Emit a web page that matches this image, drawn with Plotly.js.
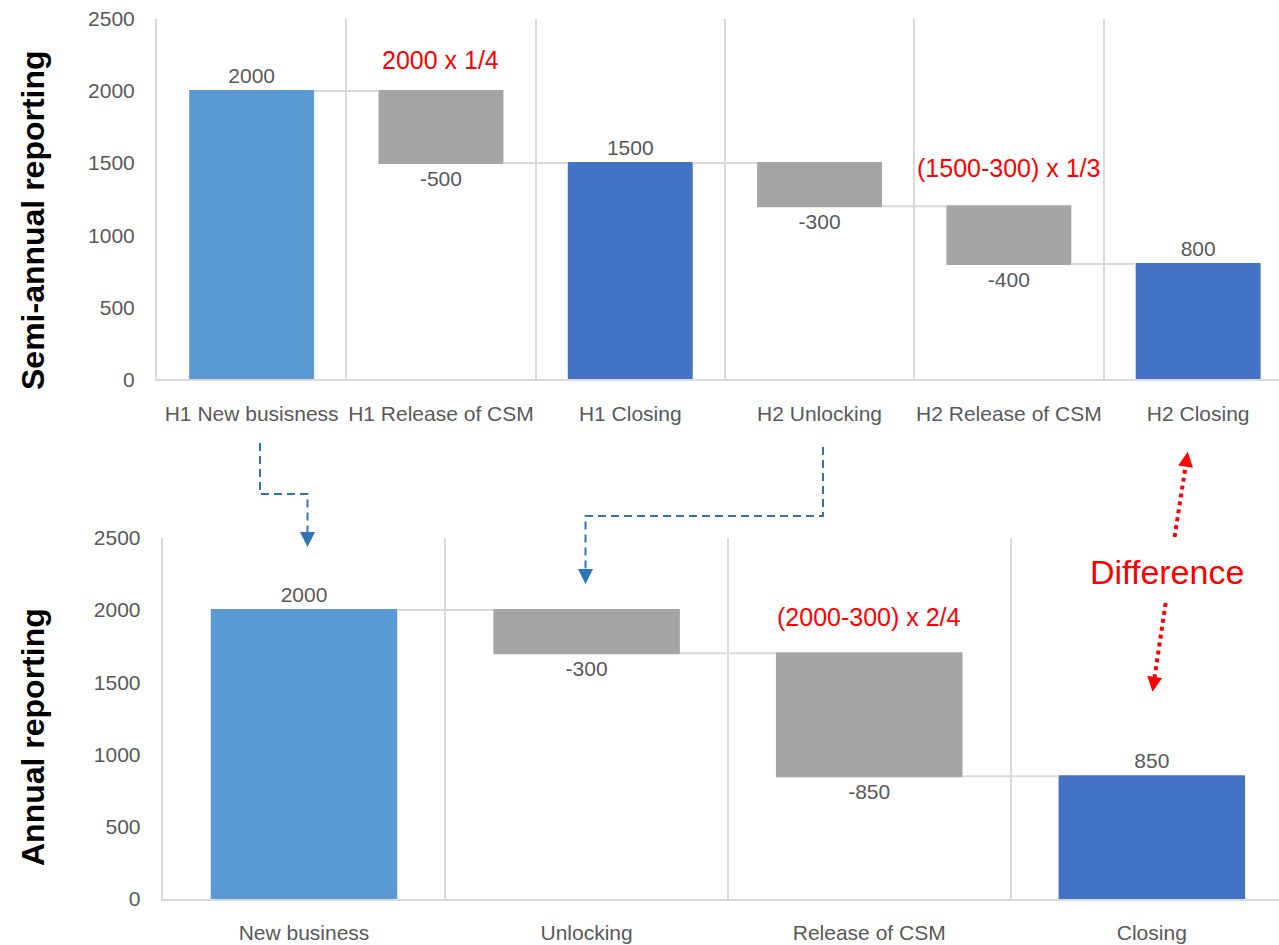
<!DOCTYPE html>
<html>
<head>
<meta charset="utf-8">
<script src="https://cdn.plot.ly/plotly-3.0.1.min.js"></script>
<style>html,body{margin:0;padding:0;background:#fff;}#chart{width:1279px;height:945px;}</style>
</head>
<body>
<div id="chart"></div>
<script>
// ---- data ----
const topCategories = ['H1 New busisness', 'H1 Release of CSM', 'H1 Closing', 'H2 Unlocking', 'H2 Release of CSM', 'H2 Closing'];
const topMeasures = ['relative', 'relative', 'total', 'relative', 'relative', 'total'];
const topValues = [2000, -500, 1500, -300, -400, 800];

const bottomCategories = ['New business', 'Unlocking', 'Release of CSM', 'Closing'];
const bottomMeasures = ['relative', 'relative', 'relative', 'total'];
const bottomValues = [2000, -300, -850, 850];

const topNotes = ['2000 x 1/4', '(1500-300) x 1/3'];
const topNoteCats = ['H1 Release of CSM', 'H2 Release of CSM'];
const topNoteY = [2216, 1466];
const bottomNotes = ['(2000-300) x 2/4', 'Difference'];
const bottomNoteCats = ['Release of CSM', 'Closing'];
const bottomNoteY = [1953, 2265];

const yTicks = [0, 500, 1000, 1500, 2000, 2500];

// ---- helpers ----
const W = 1279, H = 945;
const FONT = 'Liberation Sans, Arial, sans-serif';
const GREY_TXT = '#595959';
const GRID = '#D9D9D9';
function labelsFor(measures, values) {
  let run = 0;
  return values.map((v, i) => {
    if (measures[i] === 'total') return String(run);
    run += v;
    return String(v);
  });
}
const px = x => x / W;
const py = y => 1 - y / H;
function pathOf(pts) {
  return pts.map((p, i) => (i ? 'L ' : 'M ') + px(p[0]) + ',' + py(p[1])).join(' ');
}
function head(tip, from, len, hw) {
  const dx = tip[0] - from[0], dy = tip[1] - from[1];
  const d = Math.hypot(dx, dy), ux = dx / d, uy = dy / d;
  const bx = tip[0] - ux * len, by = tip[1] - uy * len;
  return pathOf([tip, [bx - uy * hw, by + ux * hw], [bx + uy * hw, by - ux * hw]]) + ' Z';
}

function wf(cats, measures, values, xa, ya) {
  return {
    type: 'waterfall',
    x: cats, y: values, measure: measures,
    xaxis: xa, yaxis: ya,
    text: labelsFor(measures, values),
    textposition: 'outside',
    constraintext: 'none',
    cliponaxis: false,
    textfont: {family: FONT, size: 21, color: GREY_TXT},
    increasing: {marker: {color: '#5B9BD5'}},
    decreasing: {marker: {color: '#A5A5A5'}},
    totals: {marker: {color: '#4472C4'}},
    connector: {mode: 'between', line: {color: GRID, width: 2}},
    hoverinfo: 'none',
    showlegend: false
  };
}

const data = [
  wf(topCategories, topMeasures, topValues, 'x', 'y'),
  wf(bottomCategories, bottomMeasures, bottomValues, 'x2', 'y2')
];

function xAxis(domain, range, anchor) {
  return {
    domain: domain, range: range, anchor: anchor,
    type: 'category', tickson: 'boundaries', tickangle: 0,
    showgrid: true, gridcolor: GRID, gridwidth: 2,
    showline: true, linecolor: GRID, linewidth: 2,
    ticks: '', ticklabelstandoff: 14,
    tickfont: {family: FONT, size: 21, color: GREY_TXT},
    fixedrange: true
  };
}
function yAxis(domain, anchor) {
  return {
    domain: domain, range: [0, 2500], anchor: anchor,
    tickvals: yTicks, ticktext: yTicks.map(String),
    showgrid: false, zeroline: false,
    showline: true, linecolor: GRID, linewidth: 2,
    ticks: '', ticklabelstandoff: 16,
    tickfont: {family: FONT, size: 21, color: GREY_TXT},
    fixedrange: true
  };
}

const annotations = [];
topNotes.forEach((t, i) => annotations.push({
  xref: 'x', yref: 'y', x: topNoteCats[i], y: topNoteY[i], text: t, showarrow: false,
  font: {family: FONT, size: 25, color: '#FF0000'}
}));
bottomNotes.forEach((t, i) => annotations.push({
  xref: 'x2', yref: 'y2', x: bottomNoteCats[i], y: bottomNoteY[i], text: t, showarrow: false,
  xshift: i === 1 ? 15 : 0,
  font: {family: FONT, size: i === 1 ? 34 : 25, color: '#FF0000'}
}));
annotations.push({
  xref: 'paper', yref: 'paper', x: px(33), y: py(220), xanchor: 'center', yanchor: 'middle',
  text: '<b>Semi-annual reporting</b>', textangle: -90, showarrow: false,
  font: {family: FONT, size: 32, color: '#000'}
});
annotations.push({
  xref: 'paper', yref: 'paper', x: px(33), y: py(737), xanchor: 'center', yanchor: 'middle',
  text: '<b>Annual reporting</b>', textangle: -90, showarrow: false,
  font: {family: FONT, size: 32, color: '#000'}
});

const BLUE = '#2E75B6', RED = '#FF0000';
const shapes = [
  {type: 'path', xref: 'paper', yref: 'paper', path: pathOf([[260, 443], [260, 494], [307.5, 494], [307.5, 533]]),
   line: {color: BLUE, width: 2, dash: '8px,5px'}},
  {type: 'path', xref: 'paper', yref: 'paper', path: head([307.5, 547], [307.5, 494], 15, 7.5),
   fillcolor: BLUE, line: {width: 0}},
  {type: 'path', xref: 'paper', yref: 'paper', path: pathOf([[823, 447], [823, 516], [585.5, 516], [585.5, 570]]),
   line: {color: BLUE, width: 2, dash: '8px,5px'}},
  {type: 'path', xref: 'paper', yref: 'paper', path: head([585.5, 584], [585.5, 516], 15, 7.5),
   fillcolor: BLUE, line: {width: 0}},
  {type: 'path', xref: 'paper', yref: 'paper', path: pathOf([[1174.6, 537], [1185.6, 466]]),
   line: {color: RED, width: 4, dash: '4px,4px'}},
  {type: 'path', xref: 'paper', yref: 'paper', path: head([1187.8, 451.7], [1174.6, 537], 15, 7.5),
   fillcolor: RED, line: {width: 0}},
  {type: 'path', xref: 'paper', yref: 'paper', path: pathOf([[1165.7, 603], [1154.6, 677]]),
   line: {color: RED, width: 4, dash: '4px,4px'}},
  {type: 'path', xref: 'paper', yref: 'paper', path: head([1152.5, 691.7], [1165.7, 603], 15, 7.5),
   fillcolor: RED, line: {width: 0}}
];

const layout = {
  width: W, height: H,
  margin: {l: 0, r: 0, t: 0, b: 0, pad: 0},
  paper_bgcolor: '#fff', plot_bgcolor: '#fff',
  waterfallgap: 0.34,
  showlegend: false,
  xaxis: xAxis([157 / W, 1], [-0.5, -0.5 + (W - 157) / 189.3], 'y'),
  yaxis: yAxis([py(379.3), py(19)], 'x'),
  xaxis2: xAxis([162.7 / W, 1], [-0.5, -0.5 + (W - 162.7) / 282.6], 'y2'),
  yaxis2: yAxis([py(899), py(537.7)], 'x2'),
  annotations: annotations,
  shapes: shapes,
  font: {family: FONT}
};

Plotly.newPlot('chart', data, layout, {displayModeBar: false, staticPlot: true});
</script>
</body>
</html>
